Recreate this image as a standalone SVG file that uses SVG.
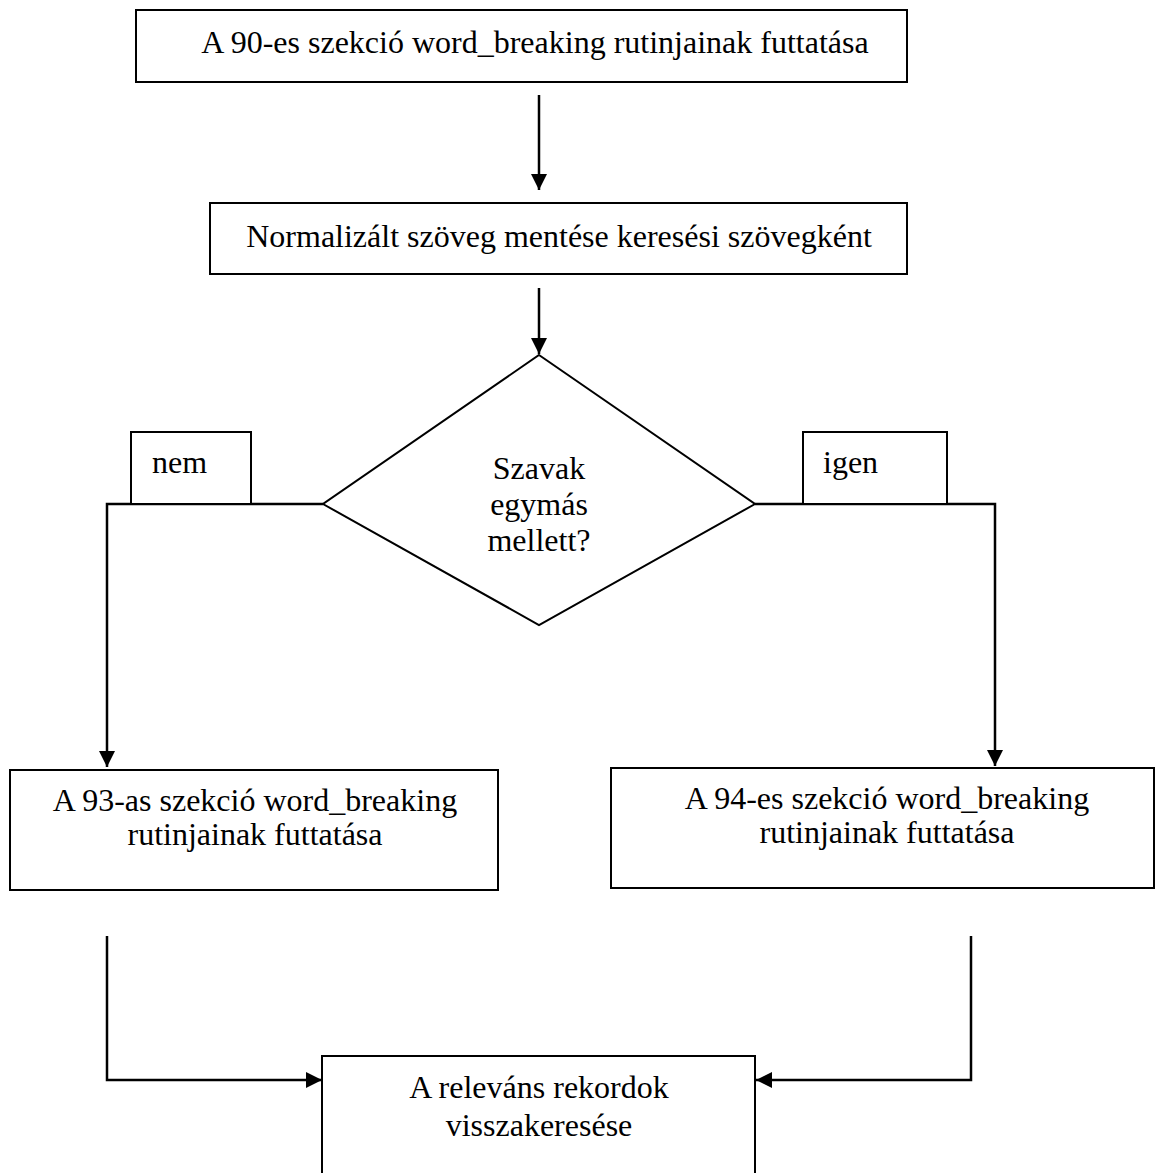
<svg xmlns="http://www.w3.org/2000/svg" width="1156" height="1173" viewBox="0 0 1156 1173">
<style>
.b{fill:#fff;stroke:#000;stroke-width:2}
.c{fill:none;stroke:#000;stroke-width:2.5}
text{font-family:"Liberation Serif","Times New Roman",serif;font-size:32px;fill:#000;text-anchor:middle}
.s{text-anchor:start}
</style>
<defs>
<marker id="a" markerUnits="userSpaceOnUse" markerWidth="16" markerHeight="16" viewBox="0 0 16 16" refX="16" refY="8" orient="auto">
<path d="M0,0 L16,8 L0,16 Z" fill="#000"/>
</marker>
</defs>
<rect width="1156" height="1173" fill="#fff"/>
<g id="connectors">
<line class="c" x1="539" y1="95" x2="539" y2="190" marker-end="url(#a)"/>
<line class="c" x1="539" y1="288" x2="539" y2="354" marker-end="url(#a)"/>
<polyline class="c" points="323,504 107,504 107,767" marker-end="url(#a)"/>
<polyline class="c" points="755,504 995,504 995,766" marker-end="url(#a)"/>
<polyline class="c" points="107,936 107,1080 322,1080" marker-end="url(#a)"/>
<polyline class="c" points="971,936 971,1080 756,1080" marker-end="url(#a)"/>
</g>
<g id="n1"><rect class="b" x="136" y="10" width="771" height="72"/><text x="535" y="53">A 90-es szekció word_breaking rutinjainak futtatása</text></g>
<g id="n2"><rect class="b" x="210" y="203" width="697" height="71"/><text x="559" y="247">Normalizált szöveg mentése keresési szövegként</text></g>
<g id="n3"><polygon class="b" points="539,355 755,504 539,625 323,504"/><text x="539" y="479">Szavak</text><text x="539" y="515">egymás</text><text x="539" y="551">mellett?</text></g>
<g id="l1"><rect class="b" x="131" y="432" width="120" height="72"/><text class="s" x="152" y="473">nem</text></g>
<g id="l2"><rect class="b" x="803" y="432" width="144" height="72"/><text class="s" x="823" y="473">igen</text></g>
<g id="n4"><rect class="b" x="10" y="770" width="488" height="120"/><text x="255" y="811">A 93-as szekció word_breaking</text><text x="255" y="845">rutinjainak futtatása</text></g>
<g id="n5"><rect class="b" x="611" y="768" width="543" height="120"/><text x="887" y="809">A 94-es szekció word_breaking</text><text x="887" y="843">rutinjainak futtatása</text></g>
<g id="n6"><rect class="b" x="322" y="1056" width="433" height="140"/><text x="539" y="1098">A releváns rekordok</text><text x="539" y="1136">visszakeresése</text></g>
</svg>
